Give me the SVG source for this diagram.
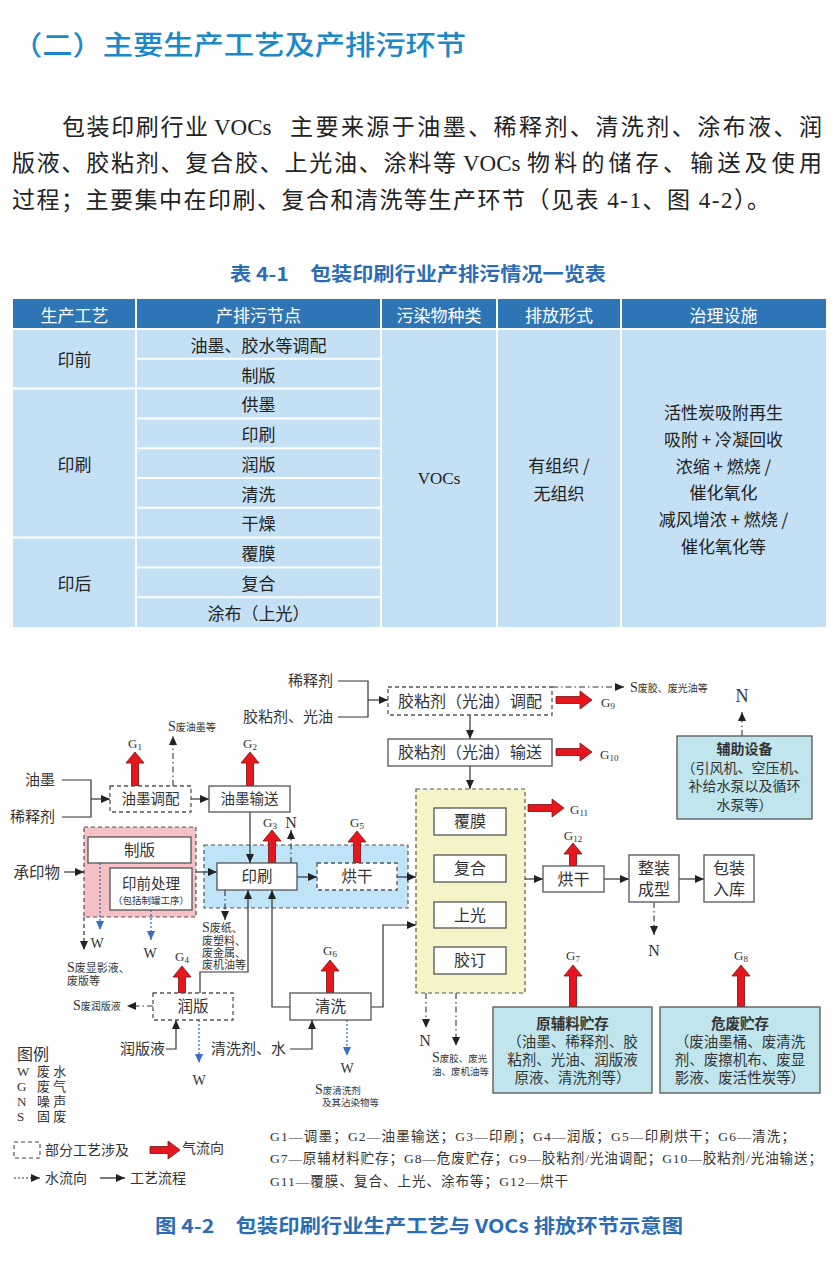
<svg xmlns="http://www.w3.org/2000/svg" width="840" height="1278" viewBox="0 0 840 1278">
<defs>
<style>
.s{font-family:"Liberation Serif","Noto Sans CJK SC",serif;fill:#333}
.p{font-family:"Liberation Serif","Noto Sans CJK SC",serif;fill:#222;font-size:23px}
.h{font-family:"Noto Sans CJK SC",sans-serif}
.c{text-anchor:middle;dominant-baseline:central}
.box{fill:#fff;stroke:#555;stroke-width:1.3}
.dbox{fill:#fff;stroke:#555;stroke-width:1.3;stroke-dasharray:4 3}
.ln{fill:none;stroke:#333;stroke-width:1.2}
.dd{fill:none;stroke:#333;stroke-width:1.1;stroke-dasharray:6 3 1.5 3}
.bd{fill:none;stroke:#3b6fc6;stroke-width:1.3;stroke-dasharray:2 2}
.ra{fill:#e5161d;stroke:#7a1010;stroke-width:0.8}
.tw{fill:#fff;font-size:17px}
.tb{fill:#222;font-size:17px}
</style>
<marker id="ah" markerWidth="9" markerHeight="8" refX="9" refY="4" orient="auto" markerUnits="userSpaceOnUse"><path d="M0,0 L9,4 L0,8 z" fill="#222"/></marker>
<marker id="ab" markerWidth="9" markerHeight="8" refX="9" refY="4" orient="auto" markerUnits="userSpaceOnUse"><path d="M0,0 L9,4 L0,8 z" fill="#3b6fc6"/></marker>
</defs>
<rect width="840" height="1278" fill="#fff"/>

<!-- heading and paragraph -->
<text x="12" y="55" class="h" font-size="27" font-weight="500" fill="#1b88c8" textLength="454" lengthAdjust="spacingAndGlyphs">（二）主要生产工艺及产排污环节</text>
<text class="p" y="135"><tspan x="62" textLength="146" lengthAdjust="spacing">包装印刷行业</tspan><tspan x="214">VOCs</tspan><tspan x="290" textLength="532" lengthAdjust="spacing">主要来源于油墨、稀释剂、清洗剂、涂布液、润</tspan></text>
<text class="p" y="171"><tspan x="12" textLength="444" lengthAdjust="spacing">版液、胶粘剂、复合胶、上光油、涂料等</tspan><tspan x="463">VOCs</tspan><tspan x="527" textLength="295" lengthAdjust="spacing">物料的储存、输送及使用</tspan></text>
<text class="p" y="208" x="12" textLength="758" lengthAdjust="spacing">过程；主要集中在印刷、复合和清洗等生产环节（见表 4-1、图 4-2）。</text>

<!-- table -->
<g id="table">
<text x="418" y="281" class="h" font-size="19" font-weight="700" fill="#2a6db5" text-anchor="middle" textLength="376" lengthAdjust="spacingAndGlyphs">表 4-1　包装印刷行业产排污情况一览表</text>
<rect x="13" y="299" width="813" height="30" fill="#2e75b6"/>
<rect x="13" y="329" width="813" height="298" fill="#c4e0f4"/>
<g stroke="#fff" stroke-width="2">
<line x1="136" y1="299" x2="136" y2="627"/>
<line x1="381" y1="299" x2="381" y2="627"/>
<line x1="497" y1="299" x2="497" y2="627"/>
<line x1="621" y1="299" x2="621" y2="627"/>
<line x1="13" y1="329" x2="826" y2="329"/>
<line x1="13" y1="388.6" x2="381" y2="388.6"/>
<line x1="13" y1="537.6" x2="381" y2="537.6"/>
<line x1="136" y1="358.8" x2="381" y2="358.8"/>
<line x1="136" y1="418.4" x2="381" y2="418.4"/>
<line x1="136" y1="448.2" x2="381" y2="448.2"/>
<line x1="136" y1="478" x2="381" y2="478"/>
<line x1="136" y1="507.8" x2="381" y2="507.8"/>
<line x1="136" y1="567.4" x2="381" y2="567.4"/>
<line x1="136" y1="597.2" x2="381" y2="597.2"/>
</g>
<g class="h c">
<text x="74.5" y="314" class="tw">生产工艺</text>
<text x="258.5" y="314" class="tw">产排污节点</text>
<text x="439" y="314" class="tw">污染物种类</text>
<text x="559" y="314" class="tw">排放形式</text>
<text x="723.5" y="314" class="tw">治理设施</text>
<text x="74.5" y="358" class="tb">印前</text>
<text x="74.5" y="463" class="tb">印刷</text>
<text x="74.5" y="582" class="tb">印后</text>
<text x="258.5" y="344" class="tb">油墨、胶水等调配</text>
<text x="258.5" y="374" class="tb">制版</text>
<text x="258.5" y="403.5" class="tb">供墨</text>
<text x="258.5" y="433.3" class="tb">印刷</text>
<text x="258.5" y="463" class="tb">润版</text>
<text x="258.5" y="493" class="tb">清洗</text>
<text x="258.5" y="522.7" class="tb">干燥</text>
<text x="258.5" y="552.5" class="tb">覆膜</text>
<text x="258.5" y="582.3" class="tb">复合</text>
<text x="258.5" y="612" class="tb">涂布（上光）</text>
<text x="439" y="478" class="tb s" fill="#222">VOCs</text>
<text x="559" y="464" class="tb">有组织 /</text>
<text x="559" y="492" class="tb">无组织</text>
<text x="723.5" y="411" class="tb">活性炭吸附再生</text>
<text x="723.5" y="438" class="tb">吸附 + 冷凝回收</text>
<text x="723.5" y="465" class="tb">浓缩 + 燃烧 /</text>
<text x="723.5" y="491" class="tb">催化氧化</text>
<text x="723.5" y="518" class="tb">减风增浓 + 燃烧 /</text>
<text x="723.5" y="545" class="tb">催化氧化等</text>
</g>
</g>

<!-- regions -->
<g id="region-prepress"><rect x="84" y="827" width="112" height="90" fill="#f6c1c4" stroke="#555" stroke-width="1.2" stroke-dasharray="4 3"/></g>
<g id="region-print"><rect x="204" y="845" width="204" height="63" fill="#bfe3f7" stroke="#555" stroke-width="1.2" stroke-dasharray="4 3"/></g>
<g id="region-post"><rect x="416" y="789" width="109" height="204" fill="#f4f4c8" stroke="#555" stroke-width="1.2" stroke-dasharray="4 3"/></g>

<!-- connectors -->
<g id="connectors">
<polyline class="ln" points="338,681 368,681 368,717 338,717"/>
<line class="ln" x1="368" y1="700" x2="388" y2="700" marker-end="url(#ah)"/>
<polyline class="ln" points="62,780 91,780 91,817 62,817"/>
<line class="ln" x1="91" y1="799" x2="110" y2="799" marker-end="url(#ah)"/>
<line class="ln" x1="191" y1="799" x2="209" y2="799" marker-end="url(#ah)"/>
<line class="ln" x1="250" y1="812" x2="250" y2="863" marker-end="url(#ah)"/>
<line class="ln" x1="64" y1="872" x2="84" y2="872" marker-end="url(#ah)"/>
<line class="ln" x1="196" y1="872" x2="217" y2="872" marker-end="url(#ah)"/>
<line class="ln" x1="297" y1="877" x2="317" y2="877" marker-end="url(#ah)"/>
<line class="ln" x1="397" y1="877" x2="416" y2="877" marker-end="url(#ah)"/>
<polyline class="ln" points="200,993 200,972 248,972 248,890" marker-end="url(#ah)"/>
<polyline class="ln" points="290,1007 272,1007 272,890" marker-end="url(#ah)"/>
<polyline class="ln" points="371,1007 383,1007 383,925 416,925" marker-end="url(#ah)"/>
<polyline class="ln" points="166,1049 176,1049 176,1020" marker-end="url(#ah)"/>
<polyline class="ln" points="290,1049 312,1049 312,1020" marker-end="url(#ah)"/>
<line class="ln" x1="470" y1="715" x2="470" y2="739" marker-end="url(#ah)"/>
<line class="ln" x1="470" y1="766" x2="470" y2="789" marker-end="url(#ah)"/>
<line class="ln" x1="525" y1="879" x2="543" y2="879" marker-end="url(#ah)"/>
<line class="ln" x1="604" y1="879" x2="629" y2="879" marker-end="url(#ah)"/>
<line class="ln" x1="679" y1="879" x2="704" y2="879" marker-end="url(#ah)"/>
<!-- solid waste / noise -->
<line class="dd" x1="173" y1="786" x2="173" y2="736" marker-end="url(#ah)"/>
<line class="dd" x1="552" y1="687" x2="624" y2="687" marker-end="url(#ah)"/>
<line class="dd" x1="291" y1="863" x2="291" y2="830" marker-end="url(#ah)"/>
<line class="dd" x1="225" y1="890" x2="225" y2="920" marker-end="url(#ah)"/>
<line class="ln" stroke-dasharray="4 3" x1="84" y1="917" x2="84" y2="950" marker-end="url(#ah)"/>
<line class="dd" x1="153" y1="1006" x2="127" y2="1006" marker-end="url(#ah)"/>
<line class="dd" x1="426" y1="993" x2="426" y2="1028" marker-end="url(#ah)"/>
<line class="dd" x1="456" y1="993" x2="456" y2="1046" marker-end="url(#ah)"/>
<line class="dd" x1="654" y1="902" x2="654" y2="935" marker-end="url(#ah)"/>
<line class="dd" x1="742" y1="736" x2="742" y2="712" marker-end="url(#ah)"/>
<!-- water -->
<line class="bd" x1="100" y1="863" x2="100" y2="930" marker-end="url(#ab)"/>
<line class="bd" x1="151" y1="910" x2="151" y2="940" marker-end="url(#ab)"/>
<line class="bd" x1="199" y1="1020" x2="199" y2="1063" marker-end="url(#ab)"/>
<line class="bd" x1="347" y1="1020" x2="347" y2="1056" marker-end="url(#ab)"/>
<!-- gas arrows -->
<path class="ra" d="M131.5 786V763H126L135 752L144 763H138.5V786Z"/>
<path class="ra" d="M246.5 786V763H241L250 752L259 763H253.5V786Z"/>
<path class="ra" d="M268.5 863V841H263L272 830L281 841H275.5V863Z"/>
<path class="ra" d="M353.5 863V842H348L357 831L366 842H360.5V863Z"/>
<path class="ra" d="M178.5 993V977H173L182 966L191 977H185.5V993Z"/>
<path class="ra" d="M326.5 993V971H321L330 960L339 971H333.5V993Z"/>
<path class="ra" d="M569.5 1007V976H564L573 965L582 976H576.5V1007Z"/>
<path class="ra" d="M737.5 1007V976H732L741 965L750 976H744.5V1007Z"/>
<path class="ra" d="M569.5 866V854H564L573 843L582 854H576.5V866Z"/>
<path class="ra" d="M556 696.5H580V691L592 700L580 709V703.5H556Z"/>
<path class="ra" d="M556 748.5H580V743L592 752L580 761V755.5H556Z"/>
<path class="ra" d="M528 804.5H552V799L564 808L552 817V811.5H528Z"/>
</g>

<!-- nodes -->
<g class="s">
<g id="in-xishiji"><text x="333" y="681" font-size="15" text-anchor="end" dominant-baseline="central">稀释剂</text></g>
<g id="in-jiaonianji"><text x="333" y="717" font-size="15" text-anchor="end" dominant-baseline="central">胶粘剂、光油</text></g>
<g id="in-youmo"><text x="55" y="780" font-size="15" text-anchor="end" dominant-baseline="central">油墨</text></g>
<g id="in-xishiji2"><text x="55" y="817" font-size="15" text-anchor="end" dominant-baseline="central">稀释剂</text></g>
<g id="in-chengyinwu"><text x="60" y="872" font-size="15.5" text-anchor="end" dominant-baseline="central">承印物</text></g>

<g id="n-jn-tiaopei"><rect class="dbox" x="388" y="687" width="164" height="28"/><text x="470" y="701" font-size="16" class="c">胶粘剂（光油）调配</text></g>
<g id="n-jn-shusong"><rect class="box" x="388" y="739" width="164" height="27"/><text x="470" y="752.5" font-size="16" class="c">胶粘剂（光油）输送</text></g>
<g id="n-ym-tiaopei"><rect class="dbox" x="110" y="786" width="81" height="26"/><text x="150.5" y="799" font-size="14.5" class="c">油墨调配</text></g>
<g id="n-ym-shusong"><rect class="box" x="209" y="786" width="81" height="26"/><text x="249.5" y="799" font-size="14.5" class="c">油墨输送</text></g>
<g id="n-zhiban"><rect class="box" x="88" y="837" width="103" height="26"/><text x="139.5" y="850" font-size="15.5" class="c">制版</text></g>
<g id="n-yinqian"><rect class="box" x="110" y="868" width="82" height="42"/><text x="151" y="884" font-size="14.5" class="c">印前处理</text><text x="151" y="901" font-size="9.5" class="c">（包括制罐工序）</text></g>
<g id="n-yinshua"><rect class="box" x="217" y="863" width="80" height="27"/><text x="257" y="876.5" font-size="15.5" class="c">印刷</text></g>
<g id="n-honggan1"><rect class="dbox" x="317" y="863" width="80" height="27"/><text x="357" y="876.5" font-size="15.5" class="c">烘干</text></g>
<g id="n-fumo"><rect class="box" x="434" y="808" width="72" height="27"/><text x="470" y="821.5" font-size="16" class="c">覆膜</text></g>
<g id="n-fuhe"><rect class="box" x="434" y="855" width="72" height="27"/><text x="470" y="868.5" font-size="16" class="c">复合</text></g>
<g id="n-shangguang"><rect class="box" x="434" y="902" width="72" height="26"/><text x="470" y="915" font-size="16" class="c">上光</text></g>
<g id="n-jiaoding"><rect class="box" x="434" y="947" width="72" height="27"/><text x="470" y="960.5" font-size="16" class="c">胶订</text></g>
<g id="n-honggan2"><rect class="box" x="543" y="866" width="61" height="26"/><text x="573.5" y="879" font-size="16" class="c">烘干</text></g>
<g id="n-zhengzhuang"><rect class="box" x="629" y="855" width="50" height="47"/><text x="654" y="868" font-size="16" class="c">整装</text><text x="654" y="889" font-size="16" class="c">成型</text></g>
<g id="n-baozhuang"><rect class="box" x="704" y="855" width="50" height="47"/><text x="729" y="868" font-size="16" class="c">包装</text><text x="729" y="889" font-size="16" class="c">入库</text></g>
<g id="n-runban"><rect class="dbox" x="153" y="993" width="80" height="27"/><text x="193" y="1006.5" font-size="15.5" class="c">润版</text></g>
<g id="n-qingxi"><rect class="box" x="290" y="993" width="81" height="27"/><text x="330.5" y="1006.5" font-size="15.5" class="c">清洗</text></g>
<g id="in-runbanye"><text x="165" y="1049" font-size="15" text-anchor="end" dominant-baseline="central">润版液</text></g>
<g id="in-qingxiji"><text x="286" y="1049" font-size="15" text-anchor="end" dominant-baseline="central">清洗剂、水</text></g>

<g id="n-fuzhu"><rect x="677" y="736" width="135" height="83" fill="#c0e5ec" stroke="#555" stroke-width="1.3"/>
<text x="744.5" y="748" font-size="14" font-weight="700" class="c h" fill="#333">辅助设备</text>
<text x="744.5" y="768" font-size="14" class="c">（引风机、空压机、</text>
<text x="744.5" y="786" font-size="14" class="c">补给水泵以及循环</text>
<text x="744.5" y="805" font-size="14" class="c">水泵等）</text></g>
<g id="n-yuanfuliao"><rect x="493" y="1007" width="159" height="86" fill="#c0e5ec" stroke="#555" stroke-width="1.3"/>
<text x="572.5" y="1022" font-size="14.5" font-weight="700" class="c h" fill="#333">原辅料贮存</text>
<text x="572.5" y="1042" font-size="14.5" class="c">（油墨、稀释剂、胶</text>
<text x="572.5" y="1060" font-size="14.5" class="c">粘剂、光油、润版液</text>
<text x="572.5" y="1078" font-size="14.5" class="c">原液、清洗剂等）</text></g>
<g id="n-weifei"><rect x="660" y="1007" width="160" height="86" fill="#c0e5ec" stroke="#555" stroke-width="1.3"/>
<text x="740" y="1022" font-size="14.5" font-weight="700" class="c h" fill="#333">危废贮存</text>
<text x="740" y="1042" font-size="14.5" class="c">（废油墨桶、废清洗</text>
<text x="740" y="1060" font-size="14.5" class="c">剂、废擦机布、废显</text>
<text x="740" y="1078" font-size="14.5" class="c">影液、废活性炭等）</text></g>

<!-- G labels -->
<g font-size="13" text-anchor="middle">
<text x="135" y="748">G<tspan font-size="9" dy="2">1</tspan></text>
<text x="250" y="748">G<tspan font-size="9" dy="2">2</tspan></text>
<text x="270" y="827">G<tspan font-size="9" dy="2">3</tspan></text>
<text x="357" y="827">G<tspan font-size="9" dy="2">5</tspan></text>
<text x="182" y="961">G<tspan font-size="9" dy="2">4</tspan></text>
<text x="330" y="955">G<tspan font-size="9" dy="2">6</tspan></text>
<text x="573" y="960">G<tspan font-size="9" dy="2">7</tspan></text>
<text x="741" y="960">G<tspan font-size="9" dy="2">8</tspan></text>
<text x="573" y="840">G<tspan font-size="9" dy="2">12</tspan></text>
</g>
<text x="601" y="707" font-size="13">G<tspan font-size="9" dy="2">9</tspan></text>
<text x="600" y="759" font-size="13">G<tspan font-size="9" dy="2">10</tspan></text>
<text x="570" y="814" font-size="13">G<tspan font-size="9" dy="2">11</tspan></text>

<!-- N / W labels -->
<g font-size="16" text-anchor="middle">
<text x="291" y="828">N</text>
<text x="425" y="1046">N</text>
<text x="654" y="956">N</text>
<text x="742" y="702" font-size="18">N</text>
</g>
<g font-size="14" text-anchor="middle">
<text x="97" y="948">W</text>
<text x="150" y="958">W</text>
<text x="199" y="1085">W</text>
<text x="347" y="1073">W</text>
</g>

<!-- S labels -->
<text x="168" y="731" font-size="14">S<tspan font-size="10">废油墨等</tspan></text>
<text x="630" y="692" font-size="14">S<tspan font-size="10">废胶、废光油等</tspan></text>
<text x="67" y="972" font-size="14">S<tspan font-size="11">废显影液、</tspan></text>
<text x="67" y="985" font-size="11">废版等</text>
<text x="202" y="932" font-size="14">S<tspan font-size="11">废纸、</tspan></text>
<text x="202" y="945" font-size="11">废塑料、</text>
<text x="202" y="957" font-size="11">废金属、</text>
<text x="202" y="969" font-size="11">废机油等</text>
<text x="73" y="1010" font-size="14">S<tspan font-size="10">废润版液</tspan></text>
<text x="315" y="1094" font-size="14">S<tspan font-size="9.5">废清洗剂</tspan></text>
<text x="322" y="1106" font-size="9.5">及其沾染物等</text>
<text x="432" y="1062" font-size="14">S<tspan font-size="9.5">废胶、废光</tspan></text>
<text x="432" y="1075" font-size="9.5">油、废机油等</text>
</g>

<!-- legend -->
<g id="legend" class="s">
<text x="17" y="1060" font-size="16">图例</text>
<text x="17" y="1076" font-size="13">W<tspan x="37">废 水</tspan></text>
<text x="17" y="1091" font-size="13">G<tspan x="37">废 气</tspan></text>
<text x="17" y="1106" font-size="13">N<tspan x="37">噪 声</tspan></text>
<text x="17" y="1121" font-size="13">S<tspan x="37">固 废</tspan></text>
<rect x="14" y="1142" width="26" height="16" fill="none" stroke="#444" stroke-width="1.1" stroke-dasharray="4 3"/>
<text x="45" y="1155" font-size="14">部分工艺涉及</text>
<path class="ra" d="M150 1146.5H168V1141L180 1150L168 1159V1153.5H150Z"/>
<text x="182" y="1153" font-size="14">气流向</text>
<line x1="14" y1="1178" x2="40" y2="1178" stroke="#333" stroke-width="1.2" stroke-dasharray="2 2" marker-end="url(#ah)"/>
<text x="45" y="1183" font-size="14">水流向</text>
<line x1="100" y1="1178" x2="125" y2="1178" stroke="#333" stroke-width="1.3" marker-end="url(#ah)"/>
<text x="130" y="1183" font-size="14">工艺流程</text>
<text x="270" y="1141" font-size="13.5" textLength="525" lengthAdjust="spacing">G1—调墨；G2—油墨输送；G3—印刷；G4—润版；G5—印刷烘干；G6—清洗；</text>
<text x="270" y="1163" font-size="13.5" textLength="552" lengthAdjust="spacing">G7—原辅材料贮存；G8—危废贮存；G9—胶粘剂/光油调配；G10—胶粘剂/光油输送；</text>
<text x="270" y="1186" font-size="13.5" textLength="298" lengthAdjust="spacing">G11—覆膜、复合、上光、涂布等；G12—烘干</text>
</g>

<text x="419" y="1233" class="h" font-size="19" font-weight="700" fill="#2a6db5" text-anchor="middle" textLength="528" lengthAdjust="spacingAndGlyphs">图 4-2　包装印刷行业生产工艺与 VOCs 排放环节示意图</text>
</svg>
